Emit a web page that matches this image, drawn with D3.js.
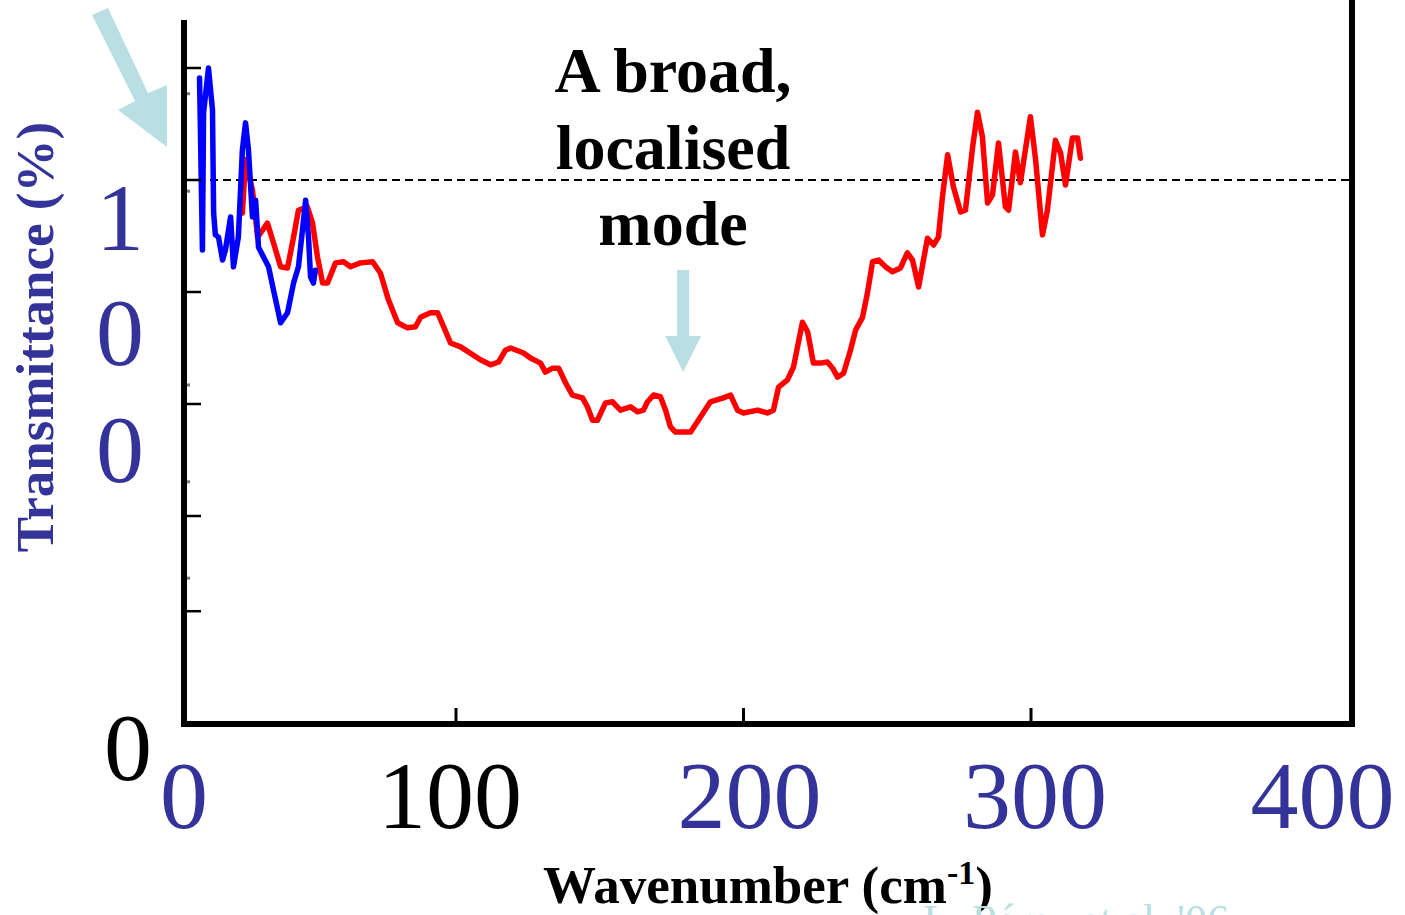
<!DOCTYPE html>
<html>
<head>
<meta charset="utf-8">
<script src="https://cdn.jsdelivr.net/npm/d3@7"></script>
<style>
  html, body { margin: 0; padding: 0; background: #fff; overflow: hidden; }
  svg { display: block; }
  text { font-family: "Liberation Serif", "Times New Roman", serif; }
</style>
</head>
<body>
<svg id="chart" width="1405" height="915"></svg>
<script>
// Far-infrared transmittance spectrum (two measurements)
const blueWavenumber = [10.8, 11.8, 12.2, 13.9, 15.3, 15.7, 16.3, 17.4, 18.8, 19.8, 21.6, 22.6, 24.3, 25.7, 26.8, 27.8, 29.2, 30.3, 31.3, 33.0, 34.8, 36.5, 39.0, 41.4, 43.5, 45.2, 46.6, 47.7, 48.7, 49.4, 50.4, 51.1];
const blueTransmittance = [1.182, 0.875, 1.120, 1.200, 1.125, 0.941, 0.902, 0.898, 0.857, 0.875, 0.934, 0.845, 0.898, 1.054, 1.102, 1.054, 0.934, 0.964, 0.880, 0.863, 0.845, 0.804, 0.745, 0.763, 0.816, 0.845, 0.911, 0.964, 0.898, 0.827, 0.816, 0.839];

const redWavenumber = [25.7, 26.8, 29.2, 31.0, 34.4, 36.5, 39.0, 41.4, 43.5, 45.2, 48.3, 50.1, 51.8, 53.6, 55.3, 58.1, 60.9, 63.3, 66.8, 71.0, 73.7, 76.5, 79.7, 83.1, 85.9, 87.7, 91.1, 93.6, 95.7, 98.1, 101.6, 108.5, 112.0, 114.8, 117.2, 119.0, 123.5, 125.9, 129.4, 131.1, 133.6, 135.7, 138.1, 140.5, 144.0, 145.7, 147.5, 149.2, 152.0, 154.4, 157.2, 160.7, 163.1, 165.2, 166.6, 168.7, 171.1, 172.9, 174.6, 176.3, 181.6, 184.3, 188.5, 193.0, 195.5, 197.9, 200.0, 204.9, 208.3, 210.4, 212.2, 215.3, 217.4, 220.5, 222.3, 224.3, 226.8, 229.2, 231.0, 232.7, 234.8, 237.2, 239.0, 241.4, 243.1, 244.9, 247.0, 249.4, 251.8, 254.6, 257.0, 258.8, 260.9, 262.6, 264.0, 266.1, 267.8, 269.2, 271.0, 273.0, 275.5, 277.2, 279.7, 281.4, 283.1, 284.9, 286.6, 288.7, 291.1, 292.2, 294.6, 296.3, 297.4, 299.8, 301.6, 304.0, 305.7, 308.5, 310.3, 312.0, 314.4, 316.2, 317.2];
const redTransmittance = [0.941, 1.036, 0.982, 0.898, 0.923, 0.888, 0.845, 0.843, 0.898, 0.946, 0.952, 0.923, 0.863, 0.816, 0.816, 0.852, 0.854, 0.845, 0.852, 0.854, 0.834, 0.786, 0.745, 0.736, 0.738, 0.755, 0.763, 0.763, 0.738, 0.709, 0.702, 0.679, 0.670, 0.675, 0.696, 0.700, 0.691, 0.682, 0.673, 0.657, 0.664, 0.664, 0.638, 0.616, 0.611, 0.595, 0.571, 0.571, 0.602, 0.604, 0.589, 0.595, 0.586, 0.589, 0.604, 0.616, 0.613, 0.589, 0.559, 0.550, 0.550, 0.571, 0.604, 0.611, 0.616, 0.589, 0.584, 0.589, 0.584, 0.589, 0.630, 0.643, 0.666, 0.746, 0.729, 0.673, 0.673, 0.675, 0.664, 0.648, 0.655, 0.696, 0.732, 0.755, 0.798, 0.854, 0.857, 0.845, 0.836, 0.843, 0.870, 0.857, 0.809, 0.857, 0.896, 0.884, 0.898, 0.970, 1.045, 0.988, 0.943, 0.946, 1.059, 1.121, 1.077, 0.959, 0.973, 1.066, 0.952, 0.946, 1.050, 0.995, 1.032, 1.113, 1.036, 0.902, 0.946, 1.071, 1.048, 0.991, 1.075, 1.075, 1.039];

// Axis ticks and labels
const xTicks = [100, 200, 300];
const xTickLabels = ["0", "100", "200", "300", "400"];
const xTickLabelValues = [0, 100, 200, 300, 400];
const xTickLabelColors = ["#333399", "#000000", "#333399", "#333399", "#333399"];
const yTicks = [1.2, 1.0, 0.8, 0.6, 0.4, 0.23];
const yMinorTicks = [1.154, 0.98, 0.634, 0.461, 0.289];
const yTickLabels = ["1", "0", "0"];
const yTickLabelValues = [0.875, 0.67, 0.461];
const referenceLevel = 1.0;

const annotationLines = ["A broad,", "localised", "mode"];
const modeWavenumber = 179;

const svg = d3.select("#chart");
const plot = { left: 184, right: 1352, top: 20, bottom: 724 };

const x = d3.scaleLinear().domain([100, 300]).range([456, 1031]);
const y = d3.scaleLinear().domain([0, 1.2]).range([740, 68]);

const BLUE_TEXT = "#333399";
const ARROW = "#b9dfe2";

const defs = svg.append("defs");
defs.append("clipPath").attr("id", "plotClip")
  .append("rect").attr("x", plot.left).attr("y", 0)
  .attr("width", plot.right - plot.left).attr("height", plot.bottom);
// Slight softening of the scanned spectra
defs.append("filter").attr("id", "soft")
  .append("feGaussianBlur").attr("stdDeviation", 0.6);

// Dashed 100% reference line
svg.append("line")
  .attr("x1", plot.left).attr("x2", plot.right)
  .attr("y1", y(referenceLevel)).attr("y2", y(referenceLevel))
  .attr("stroke", "#000").attr("stroke-width", 2)
  .attr("stroke-dasharray", "8,5");

// Spectra
const line = d3.line().x(d => x(d[0])).y(d => y(d[1]));
const red = redWavenumber.map((v, i) => [v, redTransmittance[i]]);
const blue = blueWavenumber.map((v, i) => [v, blueTransmittance[i]]);

const curves = svg.append("g").attr("clip-path", "url(#plotClip)");
curves.append("path").datum(red).attr("d", line)
  .attr("fill", "none").attr("stroke", "#ff0000").attr("stroke-width", 5.5)
  .attr("stroke-linejoin", "round").attr("stroke-linecap", "round")
  .attr("filter", "url(#soft)");
curves.append("path").datum(blue).attr("d", line)
  .attr("fill", "none").attr("stroke", "#0000ff").attr("stroke-width", 5.5)
  .attr("stroke-linejoin", "round").attr("stroke-linecap", "round")
  .attr("filter", "url(#soft)");

// Frame
const frame = svg.append("g");
frame.append("line").attr("x1", plot.left).attr("x2", plot.left)
  .attr("y1", plot.top).attr("y2", plot.bottom + 3)
  .attr("stroke", "#000").attr("stroke-width", 6);
frame.append("line").attr("x1", plot.left - 3).attr("x2", plot.right + 3)
  .attr("y1", plot.bottom).attr("y2", plot.bottom)
  .attr("stroke", "#000").attr("stroke-width", 6);
frame.append("line").attr("x1", plot.right).attr("x2", plot.right)
  .attr("y1", 0).attr("y2", plot.bottom + 3)
  .attr("stroke", "#000").attr("stroke-width", 6);

// Tick marks
frame.selectAll(".xtick").data(xTicks).join("line")
  .attr("x1", d => x(d)).attr("x2", d => x(d))
  .attr("y1", plot.bottom).attr("y2", plot.bottom - 16)
  .attr("stroke", "#000").attr("stroke-width", 3);
frame.selectAll(".ytick").data(yTicks).join("line")
  .attr("x1", plot.left).attr("x2", plot.left + 17)
  .attr("y1", d => y(d)).attr("y2", d => y(d))
  .attr("stroke", "#000").attr("stroke-width", 2.5);
frame.selectAll(".yminor").data(yMinorTicks).join("rect")
  .attr("x", plot.left + 3).attr("y", d => y(d) - 1.5)
  .attr("width", 3).attr("height", 3).attr("fill", "#777");

// Tick labels
const xLabelShift = [0, -6, 6, 4, 4];
svg.selectAll(".xlab").data(xTickLabels).join("text")
  .attr("x", (d, i) => i === 0 ? plot.left : x(xTickLabelValues[i]) + xLabelShift[i])
  .attr("y", 828)
  .attr("text-anchor", "middle")
  .attr("font-size", 96)
  .attr("fill", (d, i) => xTickLabelColors[i])
  .text(d => d);

svg.selectAll(".ylab").data(yTickLabels).join("text")
  .attr("x", 120)
  .attr("y", (d, i) => y(yTickLabelValues[i]))
  .attr("text-anchor", "middle")
  .attr("font-size", 96)
  .attr("fill", BLUE_TEXT)
  .text(d => d);

svg.append("text").attr("x", 128).attr("y", 780)
  .attr("text-anchor", "middle").attr("font-size", 96).attr("fill", "#000")
  .text("0");

// Axis titles
svg.append("text")
  .attr("transform", "translate(53,337) rotate(-90)")
  .attr("text-anchor", "middle")
  .attr("font-size", 53).attr("font-weight", "bold").attr("fill", BLUE_TEXT)
  .text("Transmittance (%)");

const xt = svg.append("text")
  .attr("x", 768).attr("y", 903)
  .attr("text-anchor", "middle")
  .attr("font-size", 53).attr("font-weight", "bold").attr("fill", "#000");
xt.append("tspan").text("Wavenumber (cm");
xt.append("tspan").attr("dy", -19).attr("font-size", 34).text("-1");
xt.append("tspan").attr("dy", 19).text(")");

// Source reference (partly below the page edge)
svg.append("text")
  .attr("x", 923).attr("y", 935)
  .attr("font-size", 44).attr("fill", ARROW)
  .text("L. Pérez et al. '06");

// Annotation
svg.selectAll(".ann").data(annotationLines).join("text")
  .attr("x", 673).attr("y", (d, i) => 92 + i * 76.5)
  .attr("text-anchor", "middle")
  .attr("font-size", 64).attr("font-weight", "bold").attr("fill", "#000")
  .text(d => d);

// Arrow pointing at the localised mode
const mx = x(modeWavenumber);
svg.append("path")
  .attr("d", `M${mx - 6},270 L${mx + 6},270 L${mx + 6},336 L${mx + 18},336 L${mx},372 L${mx - 18},336 L${mx - 6},336 Z`)
  .attr("fill", ARROW);

// Arrow pointing at the low-frequency edge
svg.append("path")
  .attr("d", "M92,15 L108,8 L148,93 L167,85 L167,147 L118,110 L135,101 Z")
  .attr("fill", ARROW);
</script>
</body>
</html>
